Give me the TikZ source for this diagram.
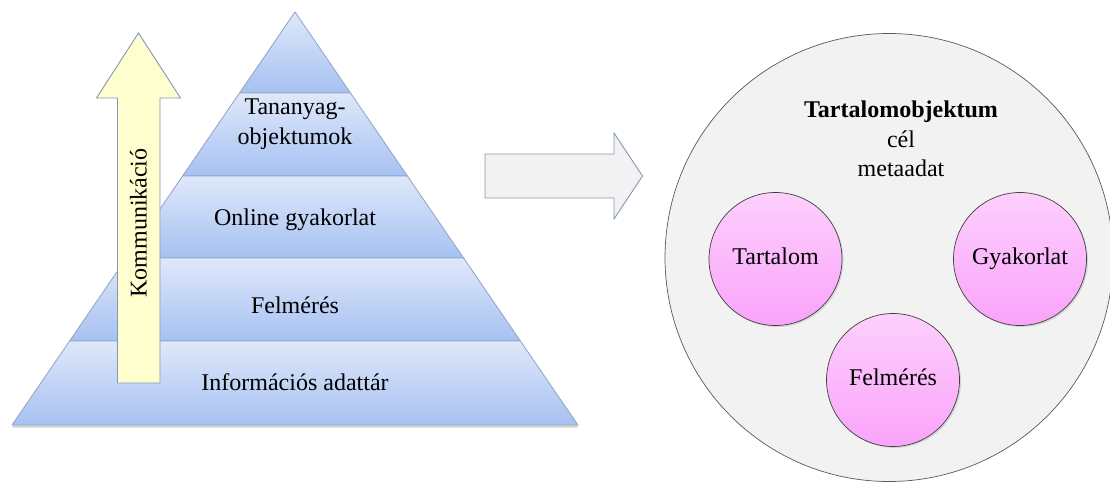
\documentclass[tikz,border=0pt]{standalone}
\usepackage{fontspec}
\setmainfont{Liberation Serif}
\usetikzlibrary{shadows}

\definecolor{tiertop}{HTML}{DFE8FA}
\definecolor{tierbot}{HTML}{A6C1F1}
\definecolor{tierline}{HTML}{8EA3C6}
\definecolor{commfill}{HTML}{FEFECE}
\definecolor{arrowline}{HTML}{8497B5}
\definecolor{panelfill}{HTML}{F2F2F2}
\definecolor{pinktop}{HTML}{FDD0FD}
\definecolor{pinkbot}{HTML}{FAA3FA}

\begin{document}
\begin{tikzpicture}[x=1pt,y=-1pt,
  tier/.style={draw=tierline, line width=0.8pt, top color=tiertop, bottom color=tierbot},
  label/.style={font=\fontsize{24}{29.5}\selectfont, align=center, inner sep=0pt},
  part/.style={circle, minimum size=133pt, draw=black!75, line width=0.7pt,
    top color=pinktop, bottom color=pinkbot,
    drop shadow={shadow xshift=1.5pt, shadow yshift=-1.5pt, opacity=0.25},
    font=\fontsize{24}{29}\selectfont, inner sep=0pt,
    text height=16pt, text depth=5pt}]
\useasboundingbox (0,0) rectangle (1110,484);

% pyramid silhouette carrying the shadow
\path[drop shadow={shadow xshift=0pt, shadow yshift=-2.5pt, opacity=0.35}, fill=white]
  (295,12) -- (578,425) -- (12,425) -- cycle;

% pyramid tiers, apex to base
\path[tier] (295,12) -- (350.5,93) -- (239.5,93) -- cycle;
\path[tier] (239.5,93) -- (350.5,93) -- (407.4,176) -- (182.6,176) -- cycle;
\path[tier] (182.6,176) -- (407.4,176) -- (463.6,258) -- (126.4,258) -- cycle;
\path[tier] (126.4,258) -- (463.6,258) -- (520.4,341) -- (69.6,341) -- cycle;
\path[tier] (69.6,341) -- (520.4,341) -- (578,425) -- (12,425) -- cycle;

\node[label] (tananyag) at (295,124) {Tananyag-\\objektumok};
\node[label] (online) at (295,220) {Online gyakorlat};
\node[label] (felm) at (295,305) {Felmérés};
\node[label] (info) at (295,382) {Információs adattár};

% upward communication arrow
\path[draw=arrowline, line width=0.9pt, fill=commfill]
  (138.5,33) -- (180.5,98) -- (160,98) -- (160,383) -- (117.5,383)
  -- (117.5,98) -- (96.5,98) -- cycle;
\node[label, rotate=90] (komm) at (138.5,223) {Kommunikáció};

% block arrow towards the content object
\path[draw=arrowline, line width=0.9pt, fill=panelfill]
  (485,154) -- (614,154) -- (614,133) -- (642.5,176) -- (614,219)
  -- (614,198) -- (485,198) -- cycle;

% content object
\node[circle, minimum size=448pt, draw=black!65, line width=0.7pt,
  fill=panelfill, inner sep=0pt] (obj) at (889,257.5) {};
\node[label] (title) at (901,139) {\textbf{Tartalomobjektum}\\cél\\metaadat};

\node[part] (tartalom) at (775.5,259) {Tartalom};
\node[part] (gyakorlat) at (1020,259) {Gyakorlat};
\node[part] (felmeres) at (893,380) {Felmérés};
\end{tikzpicture}
\end{document}
